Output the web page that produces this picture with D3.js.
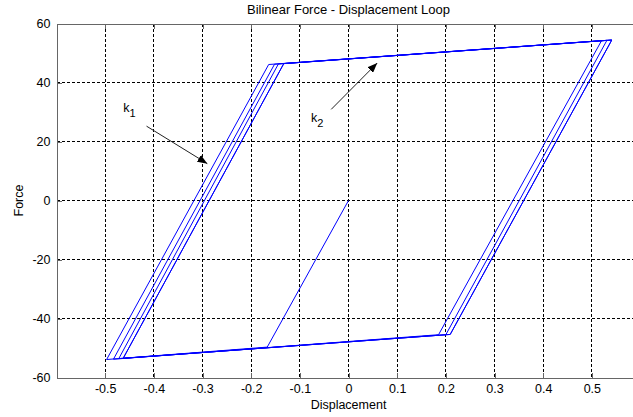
<!DOCTYPE html>
<html>
<head>
<meta charset="utf-8">
<script src="https://cdn.jsdelivr.net/npm/d3@7"></script>
<style>
  body { margin: 0; background: #fff; }
  text { font-family: "Liberation Sans", Arial, sans-serif; fill: #000; }
</style>
</head>
<body>
<script>
// hysteresis path vertices
const displacement = [0, -0.167, -0.497, -0.164, 0.520, 0.185, -0.483, -0.152, 0.531, 0.200,
  -0.472, -0.144, 0.541, 0.209, -0.463, -0.133, 0.541, 0.209, -0.463, -0.133, 0.541];
const force = [0, -49.7, -53.9, 46.1, 54.2, -45.5, -53.8, 46.2, 54.3, -45.5,
  -53.6, 46.3, 54.4, -45.4, -53.5, 46.4, 54.4, -45.4, -53.5, 46.4, 54.4];

const xTicks = [-0.5, -0.4, -0.3, -0.2, -0.1, 0, 0.1, 0.2, 0.3, 0.4, 0.5];
const yTicks = [-60, -40, -20, 0, 20, 40, 60];

// stiffness annotations (data units)
const arrowFrom = [[-0.415, 25.2], [-0.0355, 30.9]];
const arrowTo = [[-0.290, 12.5], [0.059, 46.6]];
const labelAt = [[-0.463, 30.1], [-0.077, 26.6]];
const labelSub = ["1", "2"];

const width = 633, height = 417;
const axisColor = "#666";

const x = d3.scaleLinear().domain([-0.6, 0.6]).range([56.5, 640.5]);
const y = d3.scaleLinear().domain([-60, 60]).range([377.5, 23.5]);

const svg = d3.select("body").append("svg")
  .attr("width", width)
  .attr("height", height);

svg.append("rect").attr("width", width).attr("height", height).attr("fill", "#fff");

// grid
const grid = svg.append("g")
  .attr("stroke", "#000")
  .attr("stroke-dasharray", "3,2")
  .attr("shape-rendering", "crispEdges");

grid.selectAll("line.v")
  .data(xTicks)
  .enter().append("line")
  .attr("class", "v")
  .attr("x1", d => x(d)).attr("x2", d => x(d))
  .attr("y1", y(60)).attr("y2", y(-60));

grid.selectAll("line.h")
  .data(yTicks.filter(d => d > -60 && d < 60))
  .enter().append("line")
  .attr("class", "h")
  .attr("y1", d => y(d)).attr("y2", d => y(d))
  .attr("x1", x(-0.6)).attr("x2", x(0.6));

// axes
function styleAxis(g) {
  g.selectAll("path, line").attr("stroke", axisColor).attr("shape-rendering", "crispEdges");
  g.selectAll("text").attr("fill", "#000").style("font-size", "12.5px")
    .style("font-family", "'Liberation Sans', Arial, sans-serif");
}

svg.append("g")
  .attr("transform", "translate(0," + y(-60) + ")")
  .call(d3.axisBottom(x).tickValues(xTicks).tickFormat(d => String(d))
    .tickSizeInner(-5).tickSizeOuter(0).tickPadding(7))
  .call(styleAxis);

svg.append("g")
  .attr("transform", "translate(0," + y(60) + ")")
  .call(d3.axisTop(x).tickValues(xTicks).tickFormat("")
    .tickSizeInner(-5).tickSizeOuter(0))
  .call(styleAxis);

svg.append("g")
  .attr("transform", "translate(" + x(-0.6) + ",0)")
  .call(d3.axisLeft(y).tickValues(yTicks).tickFormat(d => String(d))
    .tickSizeInner(-5).tickSizeOuter(0).tickPadding(6))
  .call(styleAxis);

svg.append("g")
  .attr("transform", "translate(" + x(0.6) + ",0)")
  .call(d3.axisRight(y).tickValues(yTicks).tickFormat("")
    .tickSizeInner(-5).tickSizeOuter(0))
  .call(styleAxis);

// the loop
const loop = d3.line()
  .x(i => x(displacement[i]))
  .y(i => y(force[i]));

svg.append("path")
  .datum(d3.range(displacement.length))
  .attr("d", loop)
  .attr("fill", "none")
  .attr("stroke", "#0000ff")
  .attr("stroke-width", 1);

// arrows
svg.append("defs").append("marker")
  .attr("id", "head")
  .attr("markerUnits", "userSpaceOnUse")
  .attr("markerWidth", 10).attr("markerHeight", 8)
  .attr("refX", 10).attr("refY", 4)
  .attr("orient", "auto")
  .append("path")
  .attr("d", "M0,0L10,4L0,8Z")
  .attr("fill", "#000");

svg.selectAll("line.arrow")
  .data(arrowFrom)
  .enter().append("line")
  .attr("class", "arrow")
  .attr("x1", d => x(d[0])).attr("y1", d => y(d[1]))
  .attr("x2", (d, i) => x(arrowTo[i][0])).attr("y2", (d, i) => y(arrowTo[i][1]))
  .attr("stroke", "#222")
  .attr("marker-end", "url(#head)");

const labels = svg.selectAll("text.k")
  .data(labelAt)
  .enter().append("text")
  .attr("class", "k")
  .attr("x", d => x(d[0]))
  .attr("y", d => y(d[1]))
  .style("font-size", "12.5px");
labels.append("tspan").text("k");
labels.append("tspan")
  .attr("dy", 5)
  .style("font-size", "11px")
  .text((d, i) => labelSub[i]);

// titles
svg.append("text")
  .attr("x", (x(-0.6) + x(0.6)) / 2)
  .attr("y", 13.5)
  .attr("text-anchor", "middle")
  .style("font-size", "13px")
  .text("Bilinear Force - Displacement Loop");

svg.append("text")
  .attr("x", (x(-0.6) + x(0.6)) / 2)
  .attr("y", 409)
  .attr("text-anchor", "middle")
  .style("font-size", "12.5px")
  .text("Displacement");

svg.append("text")
  .attr("transform", "translate(23," + y(0) + ") rotate(-90)")
  .attr("text-anchor", "middle")
  .style("font-size", "12.5px")
  .text("Force");
</script>
</body>
</html>
